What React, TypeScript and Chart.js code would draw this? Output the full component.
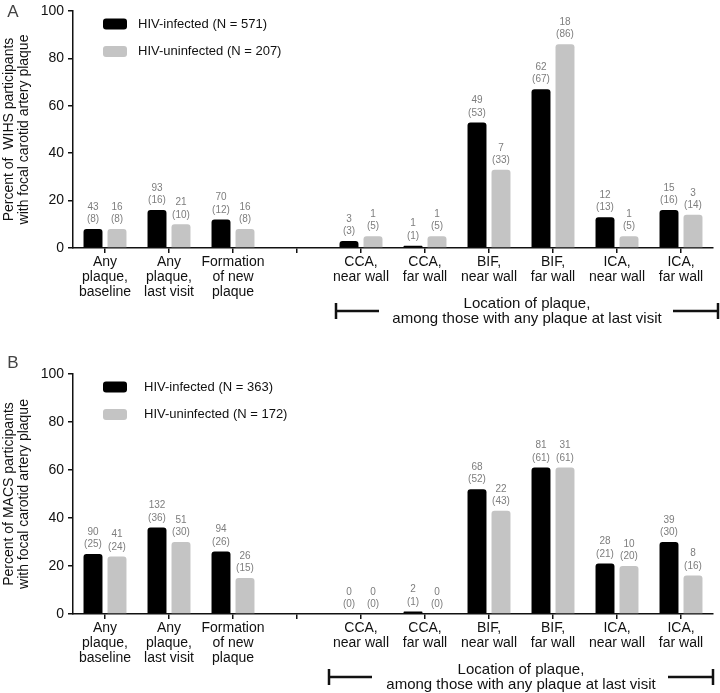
import React, { useEffect, useRef } from 'react';
import { Chart, registerables } from 'chart.js';

Chart.register(...registerables);

const FONT = '"Liberation Sans", Arial, Helvetica, sans-serif';

// Categories (index 3 is the visual gap between the two groups)
const categories: string[][] = [
  ['Any', 'plaque,', 'baseline'],
  ['Any', 'plaque,', 'last visit'],
  ['Formation', 'of new', 'plaque'],
  [''],
  ['CCA,', 'near wall'],
  ['CCA,', 'far wall'],
  ['BIF,', 'near wall'],
  ['BIF,', 'far wall'],
  ['ICA,', 'near wall'],
  ['ICA,', 'far wall'],
];

const yTicks = [0, 20, 40, 60, 80, 100];

// Panel A — WIHS
const wihsInfectedPct = [8, 16, 12, null, 3, 1, 53, 67, 13, 16];
const wihsInfectedN = [43, 93, 70, null, 3, 1, 49, 62, 12, 15];
const wihsUninfectedPct = [8, 10, 8, null, 5, 5, 33, 86, 5, 14];
const wihsUninfectedN = [16, 21, 16, null, 1, 1, 7, 18, 1, 3];

// Panel B — MACS
const macsInfectedPct = [25, 36, 26, null, 0, 1, 52, 61, 21, 30];
const macsInfectedN = [90, 132, 94, null, 0, 2, 68, 81, 28, 39];
const macsUninfectedPct = [24, 30, 15, null, 0, 0, 43, 61, 20, 16];
const macsUninfectedN = [41, 51, 26, null, 0, 0, 22, 31, 10, 8];

const legendA = ['HIV-infected (N = 571)', 'HIV-uninfected (N = 207)'];
const legendB = ['HIV-infected (N = 363)', 'HIV-uninfected (N = 172)'];

const yTitleA = ['Percent of  WIHS participants', 'with focal carotid artery plaque'];
const yTitleB = ['Percent of MACS participants', 'with focal carotid artery plaque'];

const locationText = ['Location of plaque,', 'among those with any plaque at last visit'];

const BLACK = '#000000';
const GREY = '#c4c4c4';

const annotPlugin = {
  id: 'annot',
  afterDatasetsDraw(chart: any, _args: any, opts: any) {
    const ctx: CanvasRenderingContext2D = chart.ctx;
    const area = chart.chartArea;
    const xs = chart.scales.x;
    ctx.save();

    // value labels: count on top, (percent) below
    ctx.font = `10px ${FONT}`;
    ctx.fillStyle = '#7d7d7d';
    ctx.textAlign = 'center';
    ctx.textBaseline = 'middle';
    chart.data.datasets.forEach((ds: any, i: number) => {
      const meta = chart.getDatasetMeta(i);
      const counts = opts.counts[i];
      meta.data.forEach((el: any, j: number) => {
        const v = ds.data[j];
        if (v == null || !isFinite(el.y)) return;
        ctx.fillText(String(counts[j]), el.x, el.y - 22);
        ctx.fillText('(' + v + ')', el.x, el.y - 9.5);
      });
    });

    // legend
    const colors = [BLACK, GREY];
    opts.legend.forEach((txt: string, i: number) => {
      const cy = area.top + 13 + i * 27.5;
      const bx = area.left + 30;
      ctx.fillStyle = colors[i];
      ctx.beginPath();
      (ctx as any).roundRect(bx, cy - 5.5, 24, 11, 3);
      ctx.fill();
      ctx.fillStyle = '#111';
      ctx.font = `13px ${FONT}`;
      ctx.textAlign = 'left';
      ctx.textBaseline = 'middle';
      ctx.fillText(txt, area.left + opts.legendTextDx, cy);
    });

    // panel letter
    ctx.fillStyle = '#444';
    ctx.font = `17px ${FONT}`;
    ctx.textAlign = 'center';
    ctx.textBaseline = 'middle';
    ctx.fillText(opts.letter, 13, opts.letterY);

    // bracket with location caption
    const x1 = xs.getPixelForValue(4) + opts.bracketDx[0];
    const x2 = area.right + opts.bracketDx[1];
    const by = area.bottom + opts.bracketDy;
    ctx.strokeStyle = '#111';
    ctx.lineWidth = 2.5;
    ctx.beginPath();
    ctx.moveTo(x1, by - 8);
    ctx.lineTo(x1, by + 8);
    ctx.moveTo(x1, by);
    ctx.lineTo(x1 + 43, by);
    ctx.moveTo(x2 - 45, by);
    ctx.lineTo(x2, by);
    ctx.moveTo(x2, by - 8);
    ctx.lineTo(x2, by + 8);
    ctx.stroke();
    ctx.fillStyle = '#111';
    ctx.font = `15px ${FONT}`;
    ctx.textAlign = 'center';
    const cx = (x1 + x2) / 2;
    ctx.fillText(locationText[0], cx, by - 7);
    ctx.fillText(locationText[1], cx, by + 8);

    ctx.restore();
  },
};

interface PanelCfg {
  height: number;
  top: number;
  bottom: number;
  infPct: (number | null)[];
  infN: (number | null)[];
  uninfPct: (number | null)[];
  uninfN: (number | null)[];
  legend: string[];
  legendTextDx: number;
  yTitle: string[];
  letter: string;
  letterY: number;
  bracketDx: number[];
  bracketDy: number;
}

function Panel({ cfg }: { cfg: PanelCfg }) {
  const ref = useRef<HTMLCanvasElement | null>(null);
  useEffect(() => {
    if (!ref.current) return;
    const chart = new Chart(ref.current, {
      type: 'bar',
      data: {
        labels: categories as any,
        datasets: [
          {
            label: cfg.legend[0],
            data: cfg.infPct as any,
            backgroundColor: BLACK,
            borderRadius: 3,
            barPercentage: 0.79,
            categoryPercentage: 0.75,
          },
          {
            label: cfg.legend[1],
            data: cfg.uninfPct as any,
            backgroundColor: GREY,
            borderRadius: 3,
            barPercentage: 0.79,
            categoryPercentage: 0.75,
          },
        ],
      },
      plugins: [annotPlugin as any],
      options: {
        responsive: false,
        animation: false,
        devicePixelRatio: 1,
        layout: { padding: { left: 0, top: cfg.top, right: 7, bottom: 0 } },
        plugins: {
          legend: { display: false },
          tooltip: { enabled: false },
          annot: {
            counts: [cfg.infN, cfg.uninfN],
            legend: cfg.legend,
            legendTextDx: cfg.legendTextDx,
            letter: cfg.letter,
            letterY: cfg.letterY,
            bracketDx: cfg.bracketDx,
            bracketDy: cfg.bracketDy,
          },
        } as any,
        scales: {
          x: {
            type: 'category',
            offset: true,
            grid: {
              display: true,
              drawOnChartArea: false,
              drawTicks: true,
              tickLength: 5,
              color: '#111',
              lineWidth: 1.5,
              offset: false,
            },
            border: { display: true, color: '#111', width: 1.5 },
            ticks: {
              color: '#111',
              font: { family: FONT, size: 14, lineHeight: 15 / 14 },
              padding: 2,
              maxRotation: 0,
              autoSkip: false,
            },
            afterFit: (s: any) => {
              s.height = cfg.height - cfg.bottom;
            },
          } as any,
          y: {
            min: 0,
            max: 100,
            afterBuildTicks: (s: any) => {
              s.ticks = yTicks.map((v) => ({ value: v }));
            },
            ticks: {
              color: '#111',
              font: { family: FONT, size: 14, lineHeight: 1 },
              padding: 4,
            },
            grid: {
              drawOnChartArea: false,
              drawTicks: true,
              tickLength: 5,
              color: '#111',
              lineWidth: 1.5,
            },
            border: { display: true, color: '#111', width: 1.5 },
            title: {
              display: true,
              text: cfg.yTitle,
              color: '#111',
              font: { family: FONT, size: 14, lineHeight: 15 / 14 },
              padding: { top: 2, bottom: 0 },
            },
            afterFit: (s: any) => {
              s.width = 73;
            },
          } as any,
        },
      },
    });
    return () => chart.destroy();
  }, [cfg]);
  return <canvas ref={ref} width={720} height={cfg.height} style={{ display: 'block' }} />;
}

const panelA: PanelCfg = {
  height: 340,
  top: 7,
  bottom: 248,
  infPct: wihsInfectedPct,
  infN: wihsInfectedN,
  uninfPct: wihsUninfectedPct,
  uninfN: wihsUninfectedN,
  legend: legendA,
  legendTextDx: 65,
  yTitle: yTitleA,
  letter: 'A',
  letterY: 12,
  bracketDx: [-25, 5],
  bracketDy: 63,
};

const panelB: PanelCfg = {
  height: 353,
  top: 34,
  bottom: 274,
  infPct: macsInfectedPct,
  infN: macsInfectedN,
  uninfPct: macsUninfectedPct,
  uninfN: macsUninfectedN,
  legend: legendB,
  legendTextDx: 71,
  yTitle: yTitleB,
  letter: 'B',
  letterY: 23,
  bracketDx: [-32, 0],
  bracketDy: 63,
};

export default function App() {
  return (
    <div style={{ position: 'absolute', left: 0, top: 0, width: 720, height: 693, background: '#fff' }}>
      <Panel cfg={panelA} />
      <Panel cfg={panelB} />
    </div>
  );
}
